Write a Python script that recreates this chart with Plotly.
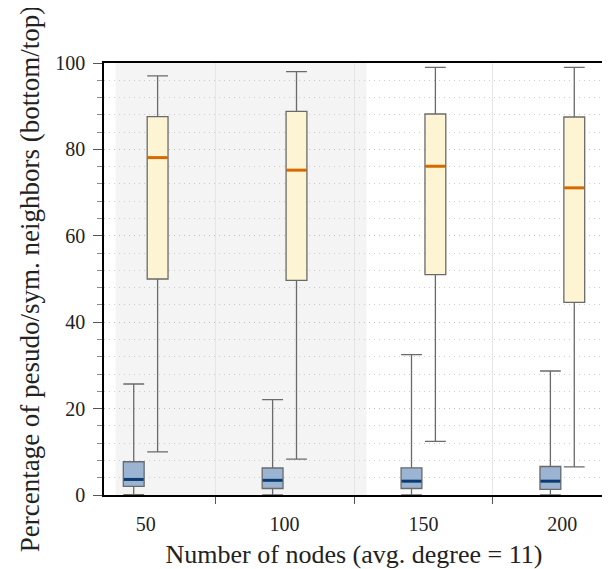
import plotly.graph_objects as go

categories = ["50", "100", "150", "200"]

# bottom (blue) boxes
bot_low = [0.1, 0.0, 0.0, 0.0]
bot_q1 = [2.0, 1.5, 1.5, 1.3]
bot_med = [3.6, 3.4, 3.2, 3.2]
bot_q3 = [7.7, 6.25, 6.3, 6.6]
bot_high = [25.7, 22.1, 32.5, 28.7]

# top (orange) boxes
top_low = [10.0, 8.3, 12.4, 6.5]
top_q1 = [50.0, 49.7, 51.0, 44.6]
top_med = [78.1, 75.2, 76.1, 71.1]
top_q3 = [87.6, 88.8, 88.2, 87.5]
top_high = [97.0, 98.0, 99.0, 99.0]

FONT = "'Liberation Serif', 'Times New Roman', Times, serif"
off = 0.086
bw = 0.15
idx = list(range(len(categories)))

fig = go.Figure()

fig.add_shape(type="rect", xref="x", yref="y", x0=-0.216, x1=1.59, y0=0, y1=100,
              fillcolor="#f4f4f4", line_width=0, layer="below")


def add_series(low, q1, med, q3, high, xpos, fill, medcol):
    fig.add_trace(go.Box(
        x=xpos, lowerfence=low, q1=q1, median=med, q3=q3, upperfence=high,
        fillcolor=fill, line=dict(color="#6a6a6a", width=1.3),
        width=bw, whiskerwidth=1, boxpoints=False, showlegend=False,
        hoverinfo="skip"))
    mx, my = [], []
    for x, m in zip(xpos, med):
        mx += [x - bw / 2 + 0.004, x + bw / 2 - 0.004, None]
        my += [m, m, None]
    fig.add_trace(go.Scatter(x=mx, y=my, mode="lines",
                             line=dict(color=medcol, width=3),
                             showlegend=False, hoverinfo="skip"))


add_series(bot_low, bot_q1, bot_med, bot_q3, bot_high,
           [i - off for i in idx], "#9ab4d1", "#0b3b72")
add_series(top_low, top_q1, top_med, top_q3, top_high,
           [i + off for i in idx], "#fdf4d4", "#d46a00")

# page body has an 8px margin: compensate
fig.update_layout(
    width=602, height=561,
    margin=dict(l=95.5, r=6, t=55, b=74, autoexpand=False),
    paper_bgcolor="white", plot_bgcolor="rgba(0,0,0,0)",
    font=dict(family=FONT, size=20, color="#222"),
    boxmode="overlay",
)

fig.update_xaxes(
    range=[-0.3, 3.3], tickvals=idx, ticktext=categories, ticks="",
    showgrid=False, zeroline=False, automargin=False,
    showline=True, linecolor="black", linewidth=1.5, mirror=True,
    tickfont=dict(size=20, family=FONT), ticklabelstandoff=10,
    minor=dict(tickvals=[0.5, 1.5, 2.5], ticks="outside", ticklen=7,
               tickcolor="#555", showgrid=True, gridcolor="#e6e6e6", gridwidth=1),
    title=dict(text="Number of nodes (avg. degree = 11)", font=dict(size=26, family=FONT),
               standoff=12),
)

fig.update_yaxes(
    range=[0, 100], dtick=20, tick0=0, ticks="outside", ticklen=9, tickcolor="#555",
    showgrid=True, gridcolor="#bdbdbd", griddash="1px,4px", gridwidth=1,
    zeroline=False, automargin=False,
    showline=True, linecolor="black", linewidth=1.5, mirror=True,
    tickfont=dict(size=20, family=FONT), ticklabelstandoff=4,
    minor=dict(dtick=4, ticks="outside", ticklen=5, tickcolor="#888",
               showgrid=True, gridcolor="#cccccc", griddash="1px,4px", gridwidth=1),
    title=dict(text="Percentage of pesudo/sym. neighbors (bottom/top)",
               font=dict(size=27, family=FONT), standoff=8),
)

fig.write_html("out.html")
